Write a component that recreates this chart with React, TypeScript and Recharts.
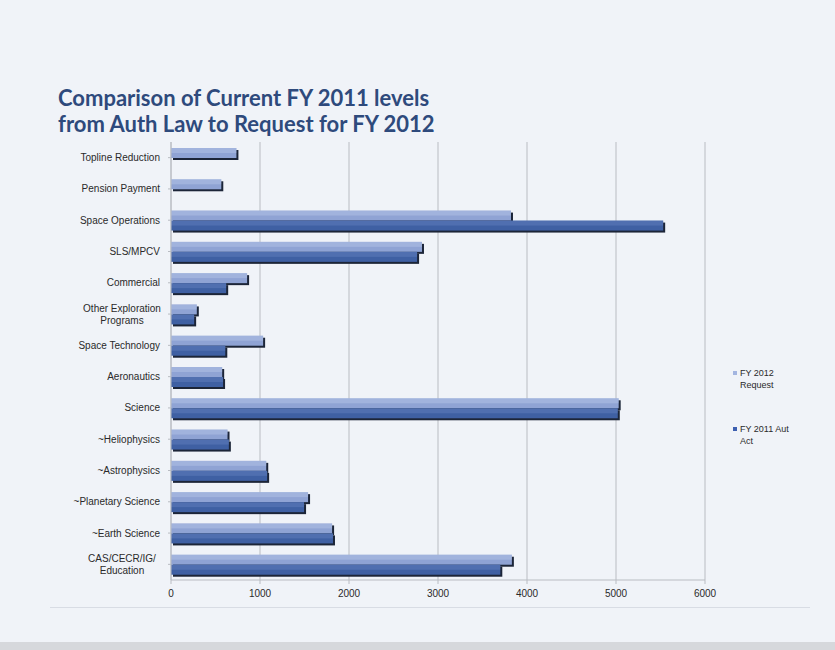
import React from 'react';
import { BarChart, Bar, XAxis, YAxis, CartesianGrid } from 'recharts';

const categories = [
  'Topline Reduction',
  'Pension Payment',
  'Space Operations',
  'SLS/MPCV',
  'Commercial',
  'Other Exploration Programs',
  'Space Technology',
  'Aeronautics',
  'Science',
  '~Heliophysics',
  '~Astrophysics',
  '~Planetary Science',
  '~Earth Science',
  'CAS/CECR/IG/ Education',
];

const fy2012Request = [735, 565, 3820, 2820, 855, 290, 1035, 575, 5030, 635, 1070, 1540, 1810, 3830];
const fy2011AuthAct = [0, 0, 5530, 2765, 620, 260, 610, 585, 5020, 650, 1080, 1495, 1820, 3700];

const xTicks = [0, 1000, 2000, 3000, 4000, 5000, 6000];

const legendLines = {
  fy2012: ['FY 2012', 'Request'],
  fy2011: ['FY 2011 Aut', 'Act'],
};

const data = categories.map((name, i) => ({
  name,
  fy2012: fy2012Request[i],
  fy2011: fy2011AuthAct[i],
}));

const LIGHT = '#8fa3d4';
const DARK = '#3f60a3';
const SHADOW = '#1c2538';

const makeShape = (fill: string, hi: string) => (props: any) => {
  const { x, y, width, height } = props;
  if (!width || width <= 0) return <g />;
  return (
    <g>
      <rect x={x + 2} y={y + 2} width={width} height={height} fill={SHADOW} />
      <rect x={x} y={y} width={width} height={height} fill={fill} />
      <rect x={x} y={y} width={width} height={height / 2} fill={hi} opacity={0.35} />
    </g>
  );
};

const wrap = (text: string, max: number) => {
  const words = text.split(' ');
  const lines: string[] = [];
  let cur = '';
  words.forEach((w) => {
    const cand = cur ? cur + ' ' + w : w;
    if (cand.length > max && cur) {
      lines.push(cur);
      cur = w;
    } else {
      cur = cand;
    }
  });
  if (cur) lines.push(cur);
  return lines;
};

const CategoryTick = (props: any) => {
  const { x, y, payload } = props;
  const lines = wrap(String(payload.value), 18);
  const lh = 12;
  const start = y - ((lines.length - 1) * lh) / 2;
  return (
    <g>
      {lines.map((l, i) => (
        <text
          key={i}
          x={x - 6}
          y={start + i * lh}
          dy={3.5}
          textAnchor={lines.length > 1 ? 'middle' : 'end'}
          dx={lines.length > 1 ? -38 : 0}
          fontSize={10}
          fill="#2a2a2a"
          fontFamily="Liberation Sans, Arial, sans-serif"
        >
          {l}
        </text>
      ))}
    </g>
  );
};

const LegendItem = ({ color, lines }: { color: string; lines: string[] }) => (
  <div style={{ display: 'flex', alignItems: 'flex-start' }}>
    <span style={{ width: 4, height: 4, background: color, marginTop: 4, marginRight: 3, flex: 'none' }} />
    <span>
      {lines[0]}
      <br />
      {lines[1]}
    </span>
  </div>
);

export default function App() {
  return (
    <div style={{ position: 'absolute', left: 0, top: 0, width: 835, height: 650, background: '#f0f3f8', overflow: 'hidden' }}>
      <div style={{ position: 'absolute', left: 0, top: 642, width: 835, height: 8, background: '#d6d8dc' }} />
      <div style={{ position: 'absolute', left: 50, top: 607, width: 760, height: 1, background: '#d8dce4' }} />
      <div
        style={{
          position: 'absolute',
          left: 58,
          top: 85,
          fontFamily: 'Lato, "Open Sans", sans-serif',
          fontWeight: 700,
          fontSize: 22,
          lineHeight: '26px',
          color: '#2e4a7c',
        }}
      >
        Comparison of Current FY 2011 levels
        <br />
        from Auth Law to Request for FY 2012
      </div>
      <div style={{ position: 'absolute', left: 0, top: 0 }}>
        <BarChart
          width={835}
          height={650}
          data={data}
          layout="vertical"
          margin={{ top: 142, right: 130, left: 0, bottom: 40 }}
          barGap={0}
          barSize={10}
        >
          <CartesianGrid horizontal={false} vertical={true} stroke="#b9bcc2" />
          <XAxis
            type="number"
            domain={[0, 6000]}
            ticks={xTicks}
            height={30}
            axisLine={{ stroke: '#b9bcc2' }}
            tickLine={{ stroke: '#b9bcc2' }}
            tickSize={4}
            tick={{ fontSize: 10, fill: '#2a2a2a', fontFamily: 'Liberation Sans, Arial, sans-serif' }}
            tickMargin={6}
          />
          <YAxis
            type="category"
            dataKey="name"
            width={171}
            axisLine={{ stroke: '#b9bcc2' }}
            tickLine={{ stroke: '#b9bcc2' }}
            tickSize={3}
            tick={<CategoryTick />}
            interval={0}
          />
          <Bar dataKey="fy2012" name="FY 2012 Request" fill={LIGHT} shape={makeShape(LIGHT, '#c4d0ee')} isAnimationActive={false} />
          <Bar dataKey="fy2011" name="FY 2011 Aut Act" fill={DARK} shape={makeShape(DARK, '#6f8cc8')} isAnimationActive={false} />
        </BarChart>
      </div>
      <div
        style={{
          position: 'absolute',
          left: 733,
          top: 367,
          width: 95,
          fontFamily: 'Liberation Sans, Arial, sans-serif',
          fontSize: 9,
          color: '#2a2a2a',
          lineHeight: '12px',
        }}
      >
        <LegendItem color="#a3b5e0" lines={legendLines.fy2012} />
        <div style={{ height: 32 }} />
        <LegendItem color="#3d5fb0" lines={legendLines.fy2011} />
      </div>
    </div>
  );
}
